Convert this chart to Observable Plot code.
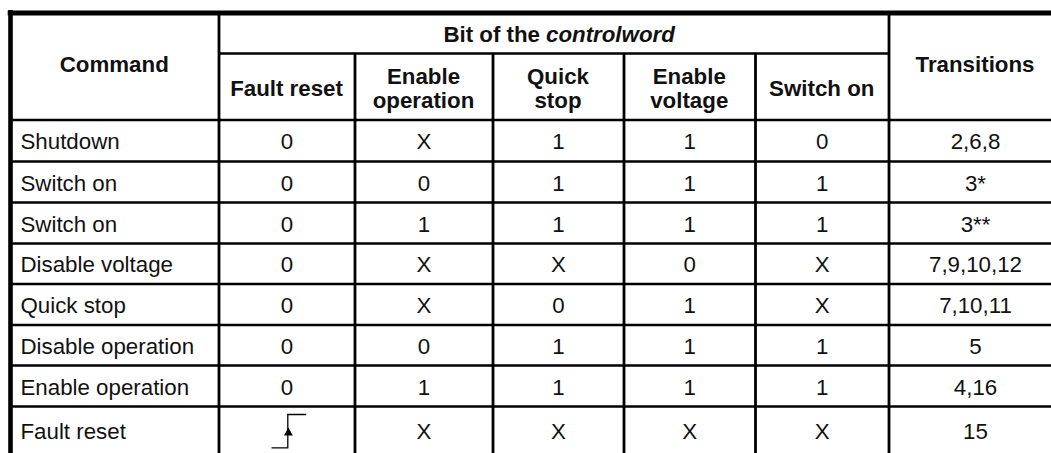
<!DOCTYPE html>
<html>
<head>
<meta charset="utf-8">
<script src="https://cdn.jsdelivr.net/npm/d3@7"></script>
<script src="https://cdn.jsdelivr.net/npm/@observablehq/plot@0.6"></script>
<style>
  html, body { margin: 0; padding: 0; background: #fff; }
  #chart svg { display: block; }
</style>
</head>
<body>
<div id="chart"></div>
<script>
// ---------- data ----------
const commands        = ["Shutdown", "Switch on", "Switch on", "Disable voltage", "Quick stop", "Disable operation", "Enable operation", "Fault reset"];
const faultReset      = ["0", "0", "0", "0", "0", "0", "0", "↑"];   // "↑" = rising edge
const enableOperation = ["X", "0", "1", "X", "X", "0", "1", "X"];
const quickStop       = ["1", "1", "1", "X", "0", "1", "1", "X"];
const enableVoltage   = ["1", "1", "1", "0", "1", "1", "1", "X"];
const switchOn        = ["0", "1", "1", "X", "X", "1", "1", "X"];
const transitions     = ["2,6,8", "3*", "3**", "7,9,10,12", "7,10,11", "5", "4,16", "15"];

const columnLabels = ["Command", "Fault reset", "Enable\noperation", "Quick\nstop", "Enable\nvoltage", "Switch on", "Transitions"];
const groupLabelPlain = "Bit of the";
const groupLabelItalic = "controlword";

// ---------- layout (not data) ----------
const W = 1051, H = 453;
const COL_EDGES = [10, 218.5, 354.5, 492.5, 623.5, 755, 888.5, 1061.5];
const ROW_EDGES = [119.5, 161, 202, 243, 283.5, 324.5, 365, 406, 453];
const TOP = 12.5, SUB = 53;
const FS = 22.3;
const FONT = "'Liberation Sans', Arial, Helvetica, sans-serif";

const colCenter = j => (COL_EDGES[j] + COL_EDGES[j + 1]) / 2;
const rowCenter = i => (ROW_EDGES[i] + ROW_EDGES[i + 1]) / 2;

// ---------- tables built from the arrays ----------
const bitColumns = [faultReset, enableOperation, quickStop, enableVoltage, switchOn, transitions];
const bodyCells = [];
commands.forEach((c, i) => {
  bitColumns.forEach((arr, k) => {
    bodyCells.push({row: i, col: k + 1, text: arr[i]});
  });
});
const textCells = bodyCells.filter(d => d.text !== "↑");
const edgeCells = bodyCells.filter(d => d.text === "↑");
const commandCells = commands.map((c, i) => ({row: i, text: c}));

const headerCells = columnLabels.map((t, j) => ({
  col: j,
  text: t,
  y: (j === 0 || j === 6) ? 64.6 : 88,
  dx: j === 6 ? -7 : 0
}));

// custom symbols for the rising-edge glyph
const stepSymbol = {
  draw(ctx, size) {
    const s = Math.sqrt(size / Math.PI);
    ctx.moveTo(-16.3 * s, 16.6 * s);
    ctx.lineTo(0, 16.6 * s);
    ctx.lineTo(0, -16.7 * s);
    ctx.lineTo(18.4 * s, -16.7 * s);
  }
};
const arrowSymbol = {
  draw(ctx, size) {
    const s = Math.sqrt(size / Math.PI);
    ctx.moveTo(0.6 * s, -3.6 * s);
    ctx.lineTo(5 * s, 4.3 * s);
    ctx.lineTo(-3.8 * s, 4.3 * s);
    ctx.closePath();
  }
};

const ink = "#000";
const textInk = "#111";

const chart = Plot.plot({
  width: W,
  height: H,
  margin: 0,
  x: {domain: [0, W], range: [0, W], axis: null},
  y: {domain: [0, H], range: [0, H], axis: null},
  style: {background: "#fff", fontFamily: FONT, color: textInk},
  marks: [
    // horizontal lines
    Plot.ruleY([TOP], {x1: COL_EDGES[0] - 2.3, x2: W, stroke: ink, strokeWidth: 5}),
    Plot.ruleY([SUB], {x1: COL_EDGES[1], x2: COL_EDGES[6], stroke: ink, strokeWidth: 2.4}),
    Plot.ruleY(ROW_EDGES.slice(0, -1), {x1: COL_EDGES[0], x2: W, stroke: ink, strokeWidth: 2.6}),
    // vertical lines
    Plot.ruleX([COL_EDGES[0]], {y1: TOP - 2.5, y2: H, stroke: ink, strokeWidth: 4.6}),
    Plot.ruleX([COL_EDGES[1], COL_EDGES[6]], {y1: TOP, y2: H, stroke: ink, strokeWidth: 2.8}),
    Plot.ruleX(COL_EDGES.slice(2, 6), {y1: SUB, y2: H, stroke: ink, strokeWidth: 2.8}),

    // header labels
    Plot.text(headerCells, {
      x: d => colCenter(d.col), y: "y", dx: "dx", text: "text",
      fontSize: FS, fontWeight: "bold", lineHeight: 1.1, fill: textInk
    }),
    Plot.text([groupLabelPlain], {
      x: () => (COL_EDGES[1] + COL_EDGES[6]) / 2, y: () => 34.6, text: d => d,
      dx: -14, textAnchor: "end", fontSize: FS, fontWeight: "bold", fill: textInk
    }),
    Plot.text([groupLabelItalic], {
      x: () => (COL_EDGES[1] + COL_EDGES[6]) / 2, y: () => 34.6, text: d => d,
      dx: -8, textAnchor: "start", fontSize: FS, fontWeight: "bold", fontStyle: "italic", fill: textInk
    }),

    // command names
    Plot.text(commandCells, {
      x: () => COL_EDGES[0], y: d => rowCenter(d.row), text: "text",
      dx: 10, dy: 1.6, textAnchor: "start", fontSize: FS, fill: textInk
    }),
    // bit values and transitions
    Plot.text(textCells, {
      x: d => colCenter(d.col), y: d => rowCenter(d.row), text: "text",
      dy: 1.6, fontSize: FS, fill: textInk
    }),

    // rising edge glyph
    Plot.dot(edgeCells, {
      x: d => colCenter(d.col), y: d => rowCenter(d.row), r: 1,
      dx: 0.8, dy: 1.2,
      symbol: stepSymbol, fill: "none", stroke: ink, strokeWidth: 1.3
    }),
    Plot.dot(edgeCells, {
      x: d => colCenter(d.col), y: d => rowCenter(d.row), r: 1,
      dx: 0.8, dy: 1.2,
      symbol: arrowSymbol, fill: ink, stroke: "none"
    })
  ]
});

document.getElementById("chart").appendChild(chart);
</script>
</body>
</html>
